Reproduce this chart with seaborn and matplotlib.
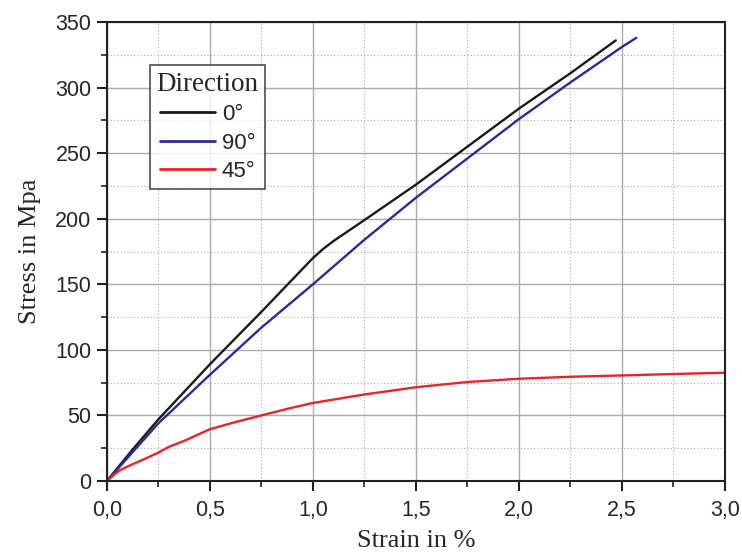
import numpy as np
import pandas as pd
import matplotlib
matplotlib.use("Agg")
import matplotlib.pyplot as plt
from matplotlib.ticker import MultipleLocator, FuncFormatter
import seaborn as sns

strain_0 = [0.0, 0.125, 0.25, 0.5, 0.75, 1.0, 1.05, 1.1, 1.25, 1.5, 1.75, 2.0, 2.25, 2.47]
stress_0 = [0, 24, 47, 89, 129, 170, 177, 183, 199, 226, 255, 284, 311, 336]

strain_90 = [0.0, 0.25, 0.5, 0.75, 1.0, 1.25, 1.5, 1.75, 2.0, 2.25, 2.5, 2.55, 2.57]
stress_90 = [0, 44, 81, 117, 150, 184, 216, 246, 276, 304, 331, 336, 338]

strain_45 = [0.0, 0.06, 0.1, 0.2, 0.25, 0.3, 0.375, 0.5, 0.625, 0.75, 0.875, 1.0, 1.25, 1.5, 1.75, 2.0, 2.25, 2.5, 2.75, 3.0]
stress_45 = [0, 8, 11, 18, 21.7, 26, 30.6, 39.5, 45, 50, 55, 59.5, 66, 71.5, 75.5, 78, 79.5, 80.5, 81.6, 82.6]

labels = ["0°", "90°", "45°"]
colors = ["#1a1a1a", "#2b2b96", "#e8232a"]

df = pd.concat([
    pd.DataFrame({"Strain": strain_0, "Stress": stress_0, "Direction": labels[0]}),
    pd.DataFrame({"Strain": strain_90, "Stress": stress_90, "Direction": labels[1]}),
    pd.DataFrame({"Strain": strain_45, "Stress": stress_45, "Direction": labels[2]}),
], ignore_index=True)

sns.set_style("white")
plt.rcParams["font.family"] = ["Liberation Sans", "DejaVu Sans"]

fig = plt.figure(figsize=(7.42, 5.52), dpi=100)
ax = fig.add_axes([0.144, 0.1286, 0.833, 0.8314])

sns.lineplot(data=df, x="Strain", y="Stress", hue="Direction", hue_order=labels,
             palette=colors, sort=False, estimator=None, linewidth=1.7, ax=ax)

ax.set_xlim(0, 3.0)
ax.set_ylim(0, 350)
ax.xaxis.set_major_locator(MultipleLocator(0.5))
ax.xaxis.set_minor_locator(MultipleLocator(0.25))
ax.yaxis.set_major_locator(MultipleLocator(50))
ax.yaxis.set_minor_locator(MultipleLocator(25))
ax.xaxis.set_major_formatter(FuncFormatter(lambda v, p: f"{v:.1f}".replace(".", ",")))
ax.yaxis.set_major_formatter(FuncFormatter(lambda v, p: f"{v:.0f}"))

ax.grid(True, which="major", color="#aaaaaa", linewidth=1.0, linestyle="-")
ax.grid(True, which="minor", color="#aaaaaa", linewidth=0.8, linestyle=(0, (1, 2)))
ax.set_axisbelow(True)

for s in ax.spines.values():
    s.set_color("#222222")
    s.set_linewidth(1.5)

ax.tick_params(which="major", direction="out", length=7, width=1.5, color="#222222",
               labelsize=15.5, bottom=True, left=True, top=False, right=False, pad=4)
ax.tick_params(which="major", axis="x", pad=7)
ax.tick_params(which="minor", direction="out", length=4, width=1.2, color="#222222",
               bottom=True, left=True, top=False, right=False)

ax.set_xlabel("Strain in %", fontfamily="Liberation Serif", fontsize=19, labelpad=6)
ax.set_ylabel("Stress in Mpa", fontfamily="Liberation Serif", fontsize=19, labelpad=10)

leg = ax.legend(title="Direction", loc="upper left", bbox_to_anchor=(0.0696, 0.906),
                fontsize=16, frameon=True, fancybox=False, edgecolor="#222222",
                handlelength=2.5, borderpad=0.3, labelspacing=0.33, handletextpad=0.3,
                borderaxespad=0.0)
leg.get_frame().set_linewidth(1.2)
leg.get_title().set_fontfamily("Liberation Serif")
leg.get_title().set_fontsize(19.5)
for line in leg.get_lines():
    line.set_linewidth(2.0)

fig.savefig("out.png", dpi=100)
